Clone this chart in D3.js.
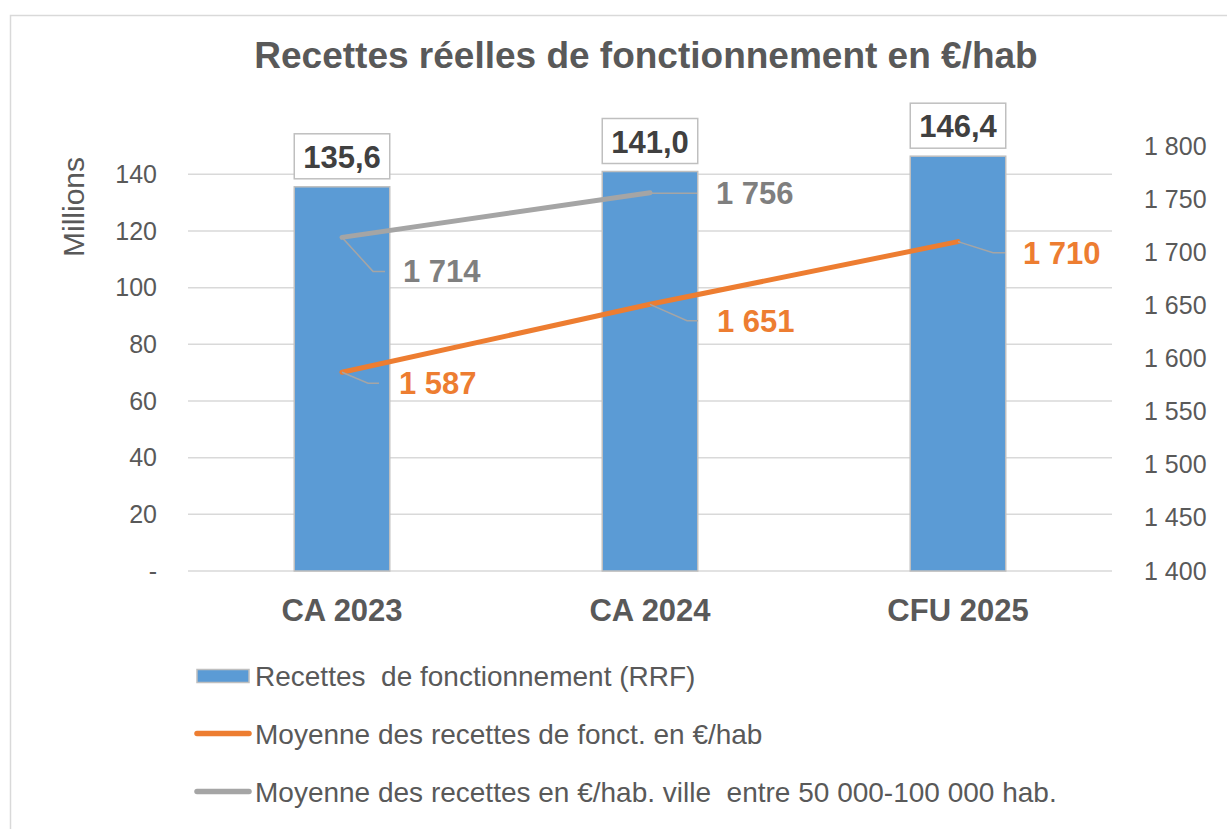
<!DOCTYPE html>
<html><head><meta charset="utf-8">
<script src="https://cdn.jsdelivr.net/npm/d3@7"></script>
<style>body{margin:0;background:#fff;} text{font-family:"Liberation Sans",Arial,sans-serif;}</style>
</head><body>
<svg id="c" width="1227" height="829"></svg>
<script>
const categories = ["CA 2023", "CA 2024", "CFU 2025"];
const rrf = [135.6, 141.0, 146.4];
const rrfLabels = ["135,6", "141,0", "146,4"];
const moyenne = [1587, 1651, 1710];
const moyenneVille = [1714, 1756];
const leftTicks = [0, 20, 40, 60, 80, 100, 120, 140];
const rightTicks = [1400, 1450, 1500, 1550, 1600, 1650, 1700, 1750, 1800];
const legendLabels = ["Recettes  de fonctionnement (RRF)", "Moyenne des recettes de fonct. en €/hab", "Moyenne des recettes en €/hab. ville  entre 50 000-100 000 hab."];
const title = "Recettes réelles de fonctionnement en €/hab";

const svg = d3.select("#c");
const plot = {l: 188, r: 1112, t: 146, b: 571};
const fmt = v => d3.format(",")(v).replace(/,/g, " ");
const FF = "Liberation Sans, Arial, sans-serif";

// outer frame
svg.append("rect").attr("x", 10.5).attr("y", 15.5).attr("width", 1230).attr("height", 830)
  .attr("fill", "#fff").attr("stroke", "#d9d9d9").attr("stroke-width", 1.5);

svg.append("text").attr("x", 646).attr("y", 68).attr("text-anchor", "middle")
  .attr("font-size", 37).attr("font-weight", "bold").attr("fill", "#595959").text(title);

const x = d3.scaleBand().domain(categories).range([plot.l, plot.r]).paddingInner(0.69).paddingOuter(0.345);
const yL = d3.scaleLinear().domain([0, 150]).range([plot.b, plot.t]);
const yR = d3.scaleLinear().domain([1400, 1800]).range([plot.b, plot.t]);

// gridlines
svg.append("g").selectAll("line").data(leftTicks).join("line")
  .attr("x1", plot.l).attr("x2", plot.r).attr("y1", d => yL(d)).attr("y2", d => yL(d))
  .attr("stroke", "#d9d9d9").attr("stroke-width", 1.5);

// left axis
const axL = svg.append("g").attr("transform", `translate(${plot.l},0)`)
  .call(d3.axisLeft(yL).tickValues(leftTicks).tickSize(0).tickPadding(31).tickFormat(d => d === 0 ? "-" : d));
axL.select(".domain").remove();
axL.selectAll("text").attr("font-size", 25).attr("fill", "#595959").attr("font-family", FF);

// right axis
const axR = svg.append("g").attr("transform", `translate(${plot.r},0)`)
  .call(d3.axisRight(yR).tickValues(rightTicks).tickSize(0).tickPadding(32).tickFormat(fmt));
axR.select(".domain").remove();
axR.selectAll("text").attr("font-size", 25).attr("fill", "#595959").attr("font-family", FF);

// y title
svg.append("text").attr("transform", "translate(84,207) rotate(-90)").attr("text-anchor", "middle")
  .attr("font-size", 30).attr("fill", "#595959").text("Millions");

// bars
svg.append("g").selectAll("rect").data(rrf).join("rect")
  .attr("x", (d, i) => x(categories[i])).attr("width", x.bandwidth())
  .attr("y", d => yL(d)).attr("height", d => plot.b - yL(d))
  .attr("fill", "#5b9bd5").attr("stroke", "#bfbfbf").attr("stroke-width", 1.5);

// bar labels
const bl = svg.append("g").selectAll("g").data(rrf).join("g");
bl.append("rect").attr("x", (d, i) => x(categories[i])).attr("width", x.bandwidth())
  .attr("y", d => yL(d) - 53).attr("height", 45)
  .attr("fill", "#fff").attr("stroke", "#bfbfbf").attr("stroke-width", 1.5);
bl.append("text").attr("x", (d, i) => x(categories[i]) + x.bandwidth() / 2).attr("y", d => yL(d) - 19)
  .attr("text-anchor", "middle").attr("font-size", 31).attr("font-weight", "bold").attr("fill", "#404040")
  .text((d, i) => rrfLabels[i]);

// category labels
svg.append("g").selectAll("text").data(categories).join("text")
  .attr("x", d => x(d) + x.bandwidth() / 2).attr("y", 621).attr("text-anchor", "middle")
  .attr("font-size", 31).attr("font-weight", "bold").attr("fill", "#595959").text(d => d);

const cx = i => x(categories[i]) + x.bandwidth() / 2;
const line = d3.line().x((d, i) => cx(i)).y(d => yR(d));

svg.append("path").datum(moyenneVille).attr("d", line).attr("fill", "none")
  .attr("stroke", "#a5a5a5").attr("stroke-width", 5).attr("stroke-linecap", "round");
svg.append("path").datum(moyenne).attr("d", line).attr("fill", "none")
  .attr("stroke", "#ed7d31").attr("stroke-width", 5).attr("stroke-linecap", "round");

// line data labels with leader lines
function lineLabels(data, color, offsets) {
  const g = svg.append("g");
  data.forEach((d, i) => {
    const px = cx(i), py = yR(d);
    const o = offsets[i];
    const ex = px + o.dx, ey = py + o.dy;
    g.append("polyline").attr("points", `${px},${py} ${ex - o.h},${ey} ${ex},${ey}`)
      .attr("fill", "none").attr("stroke", "#a5a5a5").attr("stroke-width", 1.5);
    g.append("text").attr("x", ex + o.tx).attr("y", ey + 11).attr("font-size", 31).attr("font-weight", "bold")
      .attr("fill", color).text(fmt(d));
  });
}
lineLabels(moyenneVille, "#7f7f7f", [{dx: 43, dy: 34, h: 12, tx: 18}, {dx: 47, dy: 0.5, h: 45, tx: 19}]);
lineLabels(moyenne, "#ed7d31", [{dx: 37, dy: 11, h: 11, tx: 20}, {dx: 48, dy: 16.4, h: 11, tx: 19}, {dx: 47, dy: 11, h: 12, tx: 18}]);

// legend
const lg = svg.append("g");
const ly = [676, 733.5, 791.5];
lg.append("rect").attr("x", 197).attr("y", 669.5).attr("width", 52).attr("height", 13)
  .attr("fill", "#5b9bd5").attr("stroke", "#bfbfbf").attr("stroke-width", 1.5);
lg.append("line").attr("x1", 197).attr("x2", 249).attr("y1", ly[1]).attr("y2", ly[1])
  .attr("stroke", "#ed7d31").attr("stroke-width", 5.5).attr("stroke-linecap", "round");
lg.append("line").attr("x1", 197).attr("x2", 249).attr("y1", ly[2]).attr("y2", ly[2])
  .attr("stroke", "#a5a5a5").attr("stroke-width", 5.5).attr("stroke-linecap", "round");
lg.selectAll("text").data(legendLabels).join("text")
  .attr("x", 255).attr("y", (d, i) => ly[i] + 10).attr("font-size", 28).attr("fill", "#595959")
  .style("white-space", "pre").attr("xml:space", "preserve").text(d => d);
</script>
</body></html>
